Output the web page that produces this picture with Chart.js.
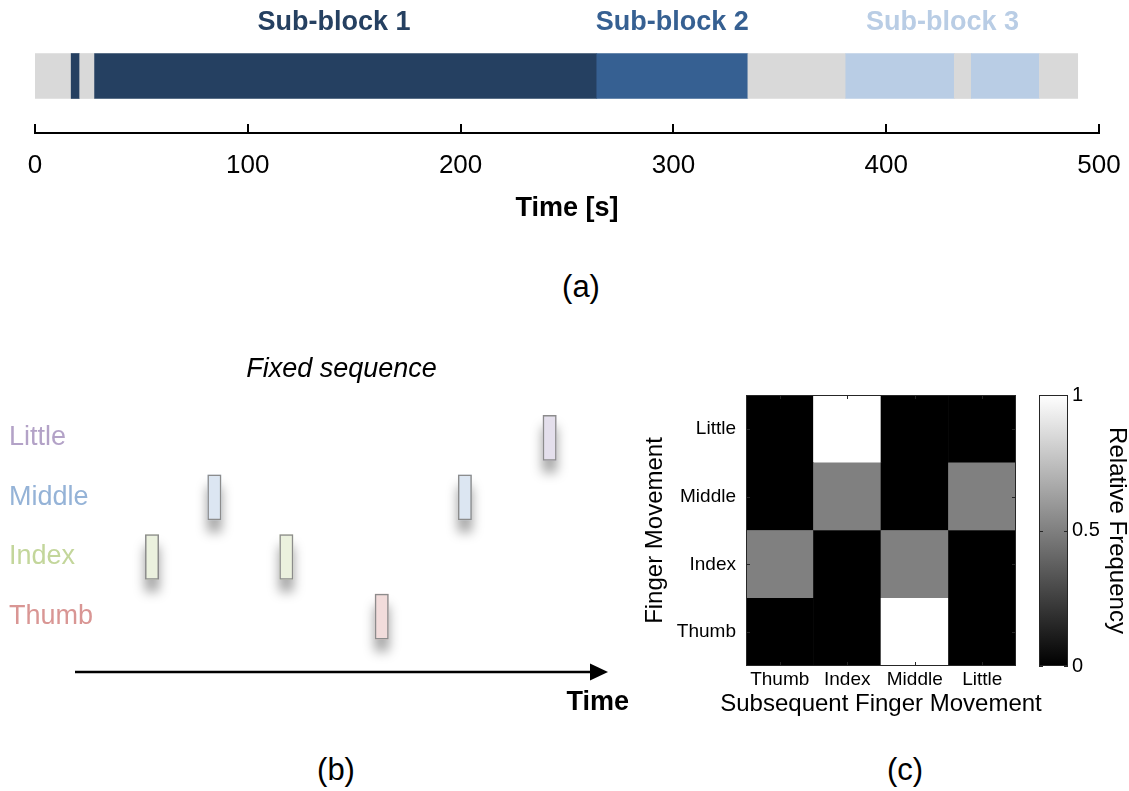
<!DOCTYPE html>
<html>
<head>
<meta charset="utf-8">
<script src="https://cdn.jsdelivr.net/npm/chart.js@4.4.1/dist/chart.umd.min.js"></script>
<style>
  body { margin: 0; background: #fff; }
  #page { position: relative; width: 1129px; height: 791px; font-family: 'Liberation Sans', Arial, sans-serif; }
  canvas { position: absolute; }
  .tag { position: absolute; font-size: 31px; color: #000; transform: translate(-50%, -50%); white-space: nowrap; }
</style>
</head>
<body>
<div id="page">
  <canvas id="timeline" width="1129" height="250" style="left:0;top:0"></canvas>
  <canvas id="sequence" width="640" height="410" style="left:0;top:330px"></canvas>
  <canvas id="transitions" width="440" height="370" style="left:630px;top:370px"></canvas>
  <canvas id="colorbar" width="99" height="330" style="left:1030px;top:370px"></canvas>
  <div class="tag" style="left:581px;top:287px">(a)</div>
  <div class="tag" style="left:336px;top:770px">(b)</div>
  <div class="tag" style="left:905px;top:770px">(c)</div>
</div>
<script>
// (a) block timeline, seconds
var segStart = [0, 17, 21, 28, 264, 335, 381, 432, 440, 472];
var segEnd   = [17, 21, 28, 264, 335, 381, 432, 440, 472, 490];
var segBlock = [0, 1, 0, 1, 2, 0, 3, 0, 3, 0];   // 0 = rest
var blockNames = ['', 'Sub-block 1', 'Sub-block 2', 'Sub-block 3'];
var blockColors = ['#D9D9D9', '#254061', '#366092', '#B9CDE5'];
var timeTicks = [0, 100, 200, 300, 400, 500];

// (b) fixed finger sequence (arbitrary time units)
var fingers = ['Thumb', 'Index', 'Middle', 'Little'];
var fingerText = ['#D99694', '#C3D69B', '#95B3D7', '#B3A2C7'];
var fingerFill = ['#F2DCDB', '#EBF1DE', '#DCE6F2', '#E4DFEC'];
var pressFinger = ['Index', 'Middle', 'Index', 'Thumb', 'Middle', 'Little'];
var pressStart  = [13.2, 24.9, 38.4, 56.3, 71.9, 87.8];
var pressEnd    = [15.7, 27.4, 40.9, 58.8, 74.4, 90.3];

// (c) transition frequencies, one row per finger movement
var subsequent = ['Thumb', 'Index', 'Middle', 'Little'];
var freqThumb  = [0, 0, 1, 0];
var freqIndex  = [0.5, 0, 0.5, 0];
var freqMiddle = [0, 0.5, 0, 0.5];
var freqLittle = [0, 1, 0, 0];
var freqTicks = [0, 0.5, 1];

var FONT = "'Liberation Sans', Arial, sans-serif";
Chart.defaults.font.family = FONT;
Chart.defaults.color = '#000';
Chart.defaults.animation = false;
Chart.defaults.events = [];
Chart.defaults.plugins.legend.display = false;
Chart.defaults.plugins.tooltip.enabled = false;

function gray(v) {
    var g = Math.round(v * 255);
    return 'rgb(' + g + ',' + g + ',' + g + ')';
}

// ---------- (a) ----------
var upTicks = {
    id: 'upTicks',
    afterDraw: function (chart) {
        var sx = chart.scales.x, ctx = chart.ctx;
        ctx.save();
        ctx.strokeStyle = '#000';
        ctx.lineWidth = 2;
        sx.ticks.forEach(function (t) {
            var px = Math.round(sx.getPixelForValue(t.value));
            ctx.beginPath();
            ctx.moveTo(px, sx.top);
            ctx.lineTo(px, sx.top - 9);
            ctx.stroke();
        });
        ctx.restore();
    }
};

var blockLabels = {
    id: 'blockLabels',
    afterDatasetsDraw: function (chart) {
        var sx = chart.scales.x, ctx = chart.ctx;
        ctx.save();
        ctx.font = 'bold 27px ' + FONT;
        ctx.textAlign = 'center';
        ctx.textBaseline = 'middle';
        for (var b = 1; b < blockNames.length; b++) {
            var lo = Infinity, hi = -Infinity;
            segBlock.forEach(function (k, i) {
                if (k === b) { lo = Math.min(lo, segStart[i]); hi = Math.max(hi, segEnd[i]); }
            });
            ctx.fillStyle = blockColors[b];
            ctx.fillText(blockNames[b], sx.getPixelForValue((lo + hi) / 2), chart.chartArea.top + 4);
        }
        ctx.restore();
    }
};

new Chart(document.getElementById('timeline'), {
    type: 'bar',
    data: {
        labels: ['run'],
        datasets: [{
            data: segStart.map(function (s, i) { return { x: [s, segEnd[i]], y: 'run' }; }),
            backgroundColor: segBlock.map(function (b) { return blockColors[b]; }),
            borderWidth: 0,
            barThickness: 45,
            grouped: false
        }]
    },
    options: {
        indexAxis: 'y',
        responsive: false,
        layout: { padding: { left: 35, right: 30, top: 19, bottom: 18 } },
        scales: {
            y: { display: false },
            x: {
                type: 'linear',
                min: 0, max: 500,
                afterBuildTicks: function (s) { s.ticks = timeTicks.map(function (v) { return { value: v }; }); },
                afterFit: function (s) { s.height = 99; },
                grid: { display: false, drawTicks: false },
                border: { display: true, color: '#000', width: 2 },
                ticks: { font: { size: 26, lineHeight: 2.5 }, padding: 0, maxRotation: 0 },
                title: { display: true, text: 'Time [s]', font: { size: 27, weight: 'bold' }, padding: { top: 0, bottom: 7 } }
            }
        }
    },
    plugins: [upTicks, blockLabels]
});

// ---------- (b) ----------
var pressPoints = pressFinger.map(function (f, i) {
    return { x: [pressStart[i], pressEnd[i]], y: fingers.indexOf(f) + 1 };
});
var pressColors = pressFinger.map(function (f) { return fingerFill[fingers.indexOf(f)]; });

// soft drop shadow, only for the borderless copy underneath
var pressShadow = {
    id: 'pressShadow',
    beforeDatasetDraw: function (chart, args) {
        if (!chart.data.datasets[args.index].shadow) return;
        var ctx = chart.ctx;
        ctx.save();
        ctx.shadowColor = 'rgba(0,0,0,0.38)';
        ctx.shadowBlur = 12;
        ctx.shadowOffsetX = 0;
        ctx.shadowOffsetY = 12;
    },
    afterDatasetDraw: function (chart, args) {
        if (chart.data.datasets[args.index].shadow) chart.ctx.restore();
    }
};

var fingerLabels = {
    id: 'fingerLabels',
    afterDraw: function (chart) {
        var sy = chart.scales.y, ctx = chart.ctx;
        ctx.save();
        ctx.font = '27px ' + FONT;
        ctx.textAlign = 'left';
        ctx.textBaseline = 'middle';
        fingers.forEach(function (f, i) {
            ctx.fillStyle = fingerText[i];
            ctx.fillText(f, 9, sy.getPixelForValue(i + 1));
        });
        ctx.restore();
    }
};

var timeArrow = {
    id: 'timeArrow',
    afterDraw: function (chart) {
        var a = chart.chartArea, ctx = chart.ctx;
        var y = a.bottom;
        ctx.save();
        ctx.strokeStyle = '#000';
        ctx.fillStyle = '#000';
        ctx.lineWidth = 2.5;
        ctx.beginPath();
        ctx.moveTo(a.left, y);
        ctx.lineTo(a.right - 16, y);
        ctx.stroke();
        ctx.beginPath();
        ctx.moveTo(a.right - 18, y - 8.5);
        ctx.lineTo(a.right, y);
        ctx.lineTo(a.right - 18, y + 8.5);
        ctx.closePath();
        ctx.fill();
        ctx.textBaseline = 'middle';
        ctx.font = 'bold 27px ' + FONT;
        ctx.textAlign = 'right';
        ctx.fillText('Time', a.right + 21, y + 31);
        ctx.font = 'italic 27px ' + FONT;
        ctx.textAlign = 'center';
        ctx.fillText('Fixed sequence', (a.left + a.right) / 2, a.top - 39);
        ctx.restore();
    }
};

new Chart(document.getElementById('sequence'), {
    type: 'bar',
    data: {
        datasets: [{
            data: pressPoints,
            backgroundColor: pressColors,
            borderColor: '#8C8C8C',
            borderWidth: 1.5,
            borderSkipped: false,
            barThickness: 45,
            grouped: false,
            order: 0
        }, {
            shadow: true,
            data: pressPoints,
            backgroundColor: pressColors,
            borderWidth: 0,
            barThickness: 45,
            grouped: false,
            order: 1
        }]
    },
    options: {
        indexAxis: 'y',
        responsive: false,
        layout: { padding: { left: 75, right: 32, top: 78, bottom: 68 } },
        scales: {
            x: { type: 'linear', min: 0, max: 100, display: false },
            y: { type: 'linear', min: 0.07, max: 4.5, offset: false, display: false }
        }
    },
    plugins: [pressShadow, fingerLabels, timeArrow]
});

// ---------- (c) ----------
var rows = [freqThumb, freqIndex, freqMiddle, freqLittle];

var frameTicks = {
    id: 'frameTicks',
    afterDraw: function (chart) {
        var a = chart.chartArea, ctx = chart.ctx;
        var sx = chart.scales.x, sy = chart.scales.y;
        ctx.save();
        ctx.strokeStyle = '#262626';
        ctx.lineWidth = 1;
        ctx.strokeRect(a.left + 0.5, a.top + 0.5, a.width - 1, a.height - 1);
        ctx.beginPath();
        if (sx.type === 'category' && sx.options.display) {
            sx.ticks.forEach(function (t, i) {
                var px = Math.round(sx.getPixelForTick(i)) + 0.5;
                ctx.moveTo(px, a.top); ctx.lineTo(px, a.top + 4);
                ctx.moveTo(px, a.bottom); ctx.lineTo(px, a.bottom - 4);
            });
        }
        sy.ticks.forEach(function (t) {
            var py = Math.round(sy.getPixelForValue(t.value)) + 0.5;
            ctx.moveTo(a.left, py); ctx.lineTo(a.left + 4, py);
            ctx.moveTo(a.right, py); ctx.lineTo(a.right - 4, py);
        });
        ctx.stroke();
        ctx.restore();
    }
};

// axis title drawn by hand so it is not squeezed to the plot width
var xTitle = {
    id: 'xTitle',
    afterDraw: function (chart) {
        var a = chart.chartArea, ctx = chart.ctx;
        ctx.save();
        ctx.font = '24px ' + FONT;
        ctx.fillStyle = '#000';
        ctx.textAlign = 'center';
        ctx.textBaseline = 'middle';
        ctx.fillText('Subsequent Finger Movement', (a.left + a.right) / 2, a.bottom + 38);
        ctx.restore();
    }
};

new Chart(document.getElementById('transitions'), {
    type: 'bar',
    data: {
        labels: subsequent,
        datasets: rows.map(function (vals, r) {
            return {
                label: fingers[r],
                data: vals.map(function () { return [r, r + 1]; }),
                backgroundColor: vals.map(gray),
                borderWidth: 0,
                barPercentage: 1,
                categoryPercentage: 1,
                grouped: false
            };
        })
    },
    options: {
        responsive: false,
        layout: { padding: { left: 0, right: 54, top: 25, bottom: 10 } },
        scales: {
            x: {
                afterFit: function (s) { s.height = 64; },
                grid: { display: false, drawTicks: false },
                border: { display: false },
                ticks: { font: { size: 19 }, padding: 2, maxRotation: 0, autoSkip: false }
            },
            y: {
                type: 'linear',
                min: 0, max: 4,
                afterBuildTicks: function (s) { s.ticks = fingers.map(function (f, i) { return { value: i + 0.5 }; }); },
                afterFit: function (s) { s.width = 116; },
                grid: { display: false, drawTicks: false },
                border: { display: false },
                ticks: { font: { size: 19 }, padding: 10, callback: function (v) { return fingers[Math.floor(v)]; } },
                title: { display: true, text: 'Finger Movement', font: { size: 24 }, padding: { top: 11, bottom: 0 } }
            }
        }
    },
    plugins: [frameTicks, xTitle]
});

// colour scale for (c)
new Chart(document.getElementById('colorbar'), {
    type: 'bar',
    data: {
        labels: ['scale'],
        datasets: [{
            data: [[0, 1]],
            backgroundColor: function (c) {
                var a = c.chart.chartArea;
                if (!a) return '#808080';
                var g = c.chart.ctx.createLinearGradient(0, a.bottom, 0, a.top);
                g.addColorStop(0, '#000');
                g.addColorStop(1, '#fff');
                return g;
            },
            borderWidth: 0,
            barPercentage: 1,
            categoryPercentage: 1
        }]
    },
    options: {
        responsive: false,
        layout: { padding: { left: 9, right: 0, top: 25, bottom: 34 } },
        scales: {
            x: { display: false },
            y: {
                position: 'right',
                min: 0, max: 1,
                afterBuildTicks: function (s) { s.ticks = freqTicks.map(function (v) { return { value: v }; }); },
                afterFit: function (s) { s.width = 61; },
                grid: { display: false, drawTicks: false },
                border: { display: false },
                ticks: { font: { size: 20 }, padding: 4, callback: function (v) { return String(v); } },
                title: { display: true, text: 'Relative Frequency', font: { size: 24, lineHeight: 1 }, padding: 0 }
            }
        }
    },
    plugins: [frameTicks]
});
</script>
</body>
</html>
